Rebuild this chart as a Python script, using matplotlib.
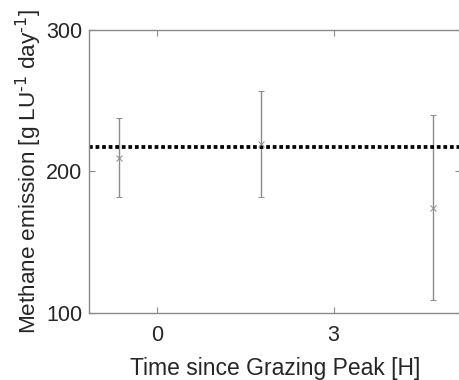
import numpy as np
import matplotlib.pyplot as plt

plt.rcParams['font.family'] = ['Liberation Sans', 'DejaVu Sans']
plt.rcParams['mathtext.default'] = 'regular'

# moyenne et écart-type des émissions par créneau
temps = [-0.64, 1.77, 4.68]
emission = [209.5, 219.5, 174.3]
ecart = [28.0, 37.3, 65.3]
moyenne_globale = 217.2

fig = plt.figure(figsize=(4.6, 3.8), dpi=100)
ax = fig.add_axes([89.5/460, 1-312.7/380, (461-89.5)/460, (312.7-30)/380])

ax.errorbar(temps, emission, yerr=ecart, fmt='x', color='#8c8c8c', ecolor='#8c8c8c',
            elinewidth=1.0, capsize=2.3, capthick=1.0, markersize=4, markeredgewidth=0.7)
ax.axhline(moyenne_globale, color='black', linestyle=(0, (1.0, 0.75)), linewidth=2.7)

ax.set_xlim(-1.142, 5.16)
ax.set_ylim(100, 300)
ax.set_xticks([0, 3])
ax.set_yticks([100, 200, 300])

for s in ax.spines.values():
    s.set_color('#8a8a8a')
    s.set_linewidth(1.0)
ax.tick_params(direction='in', length=4, width=0.8, color='#8a8a8a',
               top=True, right=True, labelsize=15.5, labelcolor='#262626')
ax.tick_params(axis='x', pad=9)
ax.tick_params(axis='y', pad=5)

ax.set_xlabel('Time since Grazing Peak [H]', fontsize=16.5, color='#262626', labelpad=8)
ax.set_ylabel('Methane emission [g LU$^{\\text{-1}}$ day$^{\\text{-1}}$]', fontsize=16.2,
              color='#262626', labelpad=1.5)

fig.savefig('out.png', dpi=100)
